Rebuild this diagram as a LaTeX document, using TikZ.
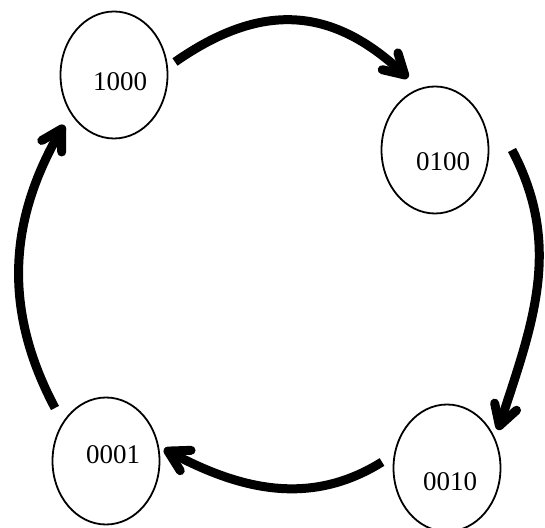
\documentclass[tikz,border=0pt]{standalone}
\usepackage{fontspec}
\setmainfont{Liberation Serif}
\usetikzlibrary{arrows.meta,shapes.geometric,calc}
\begin{document}
\begin{tikzpicture}[x=1pt,y=1pt,
  stat/.style={draw,ellipse,line width=1.8pt,minimum width=107pt,minimum height=127pt,inner sep=0pt},
  lbl/.style={font=\fontsize{27}{30}\selectfont,inner sep=0pt},
  flow/.style={line width=9pt,-{Straight Barb[length=20pt,width=23pt,round]}}]
\useasboundingbox (0,0) rectangle (545,527);
\node[stat] (n1) at (114,452) {};
\node[stat] (n2) at (435,377) {};
\node[stat] (n3) at (447,59) {};
\node[stat] (n4) at (106,66) {};
\node[lbl] (t1) at (120,445) {1000};
\node[lbl] (t2) at (443,365) {0100};
\node[lbl] (t3) at (450,45) {0010};
\node[lbl] (t4) at (113,72) {0001};
\draw[flow] ($(n1.center)+(61,13)$) to[out=35,in=137,looseness=1.15] ($(n2.center)+(-27,72)$);
\draw[flow] ($(n2.center)+(77,0)$) to[out=-62,in=72] ($(n3.center)+(51,38)$);
\draw[flow] ($(n3.center)+(-65,6)$) to[out=212,in=-28] ($(n4.center)+(58,12)$);
\draw[flow] ($(n4.center)+(-51,53)$) to[out=118,in=240] ($(n1.center)+(-50,-50)$);
\end{tikzpicture}
\end{document}
